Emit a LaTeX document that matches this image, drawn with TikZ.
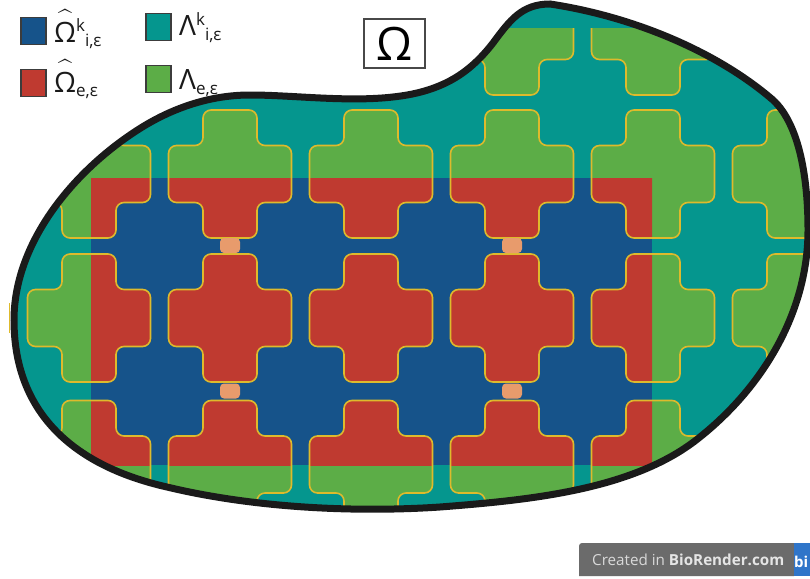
\documentclass[tikz,border=0pt]{standalone}
\usepackage{amsmath}
\usepackage{fontspec}
\setmainfont{Open Sans}
\usetikzlibrary{positioning}
\definecolor{FillInner}{RGB}{22, 83, 138}
\definecolor{FillOuter}{RGB}{191, 58, 48}
\definecolor{FillTeal}{RGB}{5, 150, 142}
\definecolor{FillGreen}{RGB}{92, 173, 71}
\definecolor{LineYellow}{RGB}{222, 186, 44}
\definecolor{FillPad}{RGB}{232, 155, 108}
\definecolor{LineDark}{RGB}{26, 26, 26}
\definecolor{BadgeGrey}{RGB}{107, 107, 107}
\definecolor{BadgeBlue}{RGB}{47, 117, 201}
% Contour d'une croix autour de (#1,#2)
\newcommand{\crosspath}[2]{(#1,#2-64) -- (#1+27,#2-64) -- (#1+27,#2-28.5) -- (#1+61.5,#2-28.5) -- (#1+61.5,#2+28.5) -- (#1+27,#2+28.5) -- (#1+27,#2+64) -- (#1-27,#2+64) -- (#1-27,#2+28.5) -- (#1-61.5,#2+28.5) -- (#1-61.5,#2-28.5) -- (#1-27,#2-28.5) -- (#1-27,#2-64) -- cycle}
\newcommand{\hatOmega}{\rlap{\raisebox{5pt}{$\widehat{\hbox{\phantom{Ω}}}$}}Ω}
\newcommand{\supk}{\raisebox{10pt}{\fontsize{17}{17}\selectfont k}}
\newcommand{\subtxt}[1]{\raisebox{-5pt}{\fontsize{17}{17}\selectfont #1}}

\begin{document}
\begin{tikzpicture}[
        x=1pt, y=-1pt,
        % Styles globaux
        swatch/.style={draw=LineDark!85, line width=1.6pt, minimum width=25pt, minimum height=27pt, inner sep=0pt},
        legend_txt/.style={anchor=base west, inner sep=0pt, text=LineDark, font=\fontsize{28}{28}\selectfont},
        pad/.style={fill=FillPad, rounded corners=4pt, minimum width=20pt, minimum height=15pt, inner sep=0pt},
        domain_line/.style={insert path={(550,4) .. controls (630,16) and (715,50) .. (773,100) .. controls (800,125) and (808,180) .. (808,230) .. controls (808,310) and (765,385) .. (700,437) .. controls (635,490) and (530,500) .. (440,507) .. controls (350,513) and (250,507) .. (167,487) .. controls (70,465) and (14,410) .. (14,320) .. controls (14,245) and (70,175) .. (133,133) .. controls (170,108) and (210,95) .. (250,95) .. controls (300,95) and (365,105) .. (417,93) .. controls (450,85) and (472,70) .. (493,43) .. controls (510,20) and (522,4) .. (550,4) -- cycle}},
        cross_fill/.style={fill=FillGreen},
        cross_line/.style={draw=LineYellow, line width=1.6pt}
    ]
    \useasboundingbox (0,0) rectangle (810,578);

    % --- DOMAINE ---
    \begin{scope}
        \clip[domain_line];
        \fill[FillTeal] (0,0) rectangle (810,578);
        % Rangée du haut, coupée en y=29
        \begin{scope}
            \clip (0,29) rectangle (810,578);
            \foreach \cx in {512,653} {
                \fill[cross_fill, rounded corners=8pt] \crosspath{\cx}{31};
            }
        \end{scope}
        \foreach \cy in {174,318,464.5} {
            \foreach \cx in {89,230,371,512,653,794} {
                \fill[cross_fill, rounded corners=8pt] \crosspath{\cx}{\cy};
            }
        }
        % Partie intérieure
        \fill[FillInner] (91,178) rectangle (652,465);
        \begin{scope}
            \clip (91,178) rectangle (652,465);
            \foreach \cy in {174,318,464.5} {
                \foreach \cx in {89,230,371,512,653} {
                    \fill[FillOuter, rounded corners=8pt] \crosspath{\cx}{\cy};
                }
            }
        \end{scope}
        % Contours des croix
        \begin{scope}
            \clip (0,29) rectangle (810,578);
            \foreach \cx in {512,653} {
                \draw[cross_line, rounded corners=8pt] \crosspath{\cx}{31};
            }
        \end{scope}
        \foreach \cy in {174,318,464.5} {
            \foreach \cx in {89,230,371,512,653,794} {
                \draw[cross_line, rounded corners=8pt] \crosspath{\cx}{\cy};
            }
        }
    \end{scope}
    \draw[LineDark, line width=7pt, domain_line];
    \draw[LineYellow, line width=1.3pt] (9.5,303) -- (9.5,333);

    % --- PASTILLES ---
    \node[pad] (pad1) at (230,245.5) {};
    \node[pad] (pad2) at (512,245.5) {};
    \node[pad] (pad3) at (230,391) {};
    \node[pad] (pad4) at (512,391) {};

    % --- LÉGENDE ---
    \node[swatch, fill=FillInner] (sw_inner) at (33.5,31) {};
    \node[swatch, fill=FillOuter] (sw_outer) at (33.5,83) {};
    \node[swatch, fill=FillTeal] (sw_teal) at (158.5,27) {};
    \node[swatch, fill=FillGreen] (sw_green) at (158.5,79) {};
    \node[legend_txt] (lab_inner) at (54,42) {\hatOmega\supk\subtxt{i,ε}};
    \node[legend_txt] (lab_outer) at (54,92) {\hatOmega\subtxt{e,ε}};
    \node[legend_txt] (lab_teal) at (179,36) {Λ\supk\subtxt{i,ε}};
    \node[legend_txt] (lab_green) at (179,89) {Λ\subtxt{e,ε}};

    % --- ÉTIQUETTE ---
    \node[draw=LineDark!80, line width=1.3pt, fill=white, minimum width=61pt, minimum height=49pt, inner sep=0pt, font=\fontsize{46}{46}\selectfont] (omega) at (394.5,43.5) {Ω\hspace{4pt}};

    % --- BADGE ---
    \fill[BadgeGrey] (794,543) -- (582,543) to[out=180, in=90] (579,546) -- (579,576) -- (794,576) -- cycle;
    \node[fill=BadgeBlue, minimum width=16pt, minimum height=33pt, inner sep=0pt, anchor=north west, text=white, font=\bfseries\fontsize{15}{15}\selectfont, text width=16pt] (badge_logo) at (794,543) {\hspace{4pt}bi};
    \node[anchor=base west, inner sep=0pt, text=white!90!black, font=\fontsize{15.2}{16}\selectfont] (badge_txt) at (592,565) {\textcolor{white!85!black}{Created in} \textbf{BioRender.com}};
\end{tikzpicture}
\end{document}
